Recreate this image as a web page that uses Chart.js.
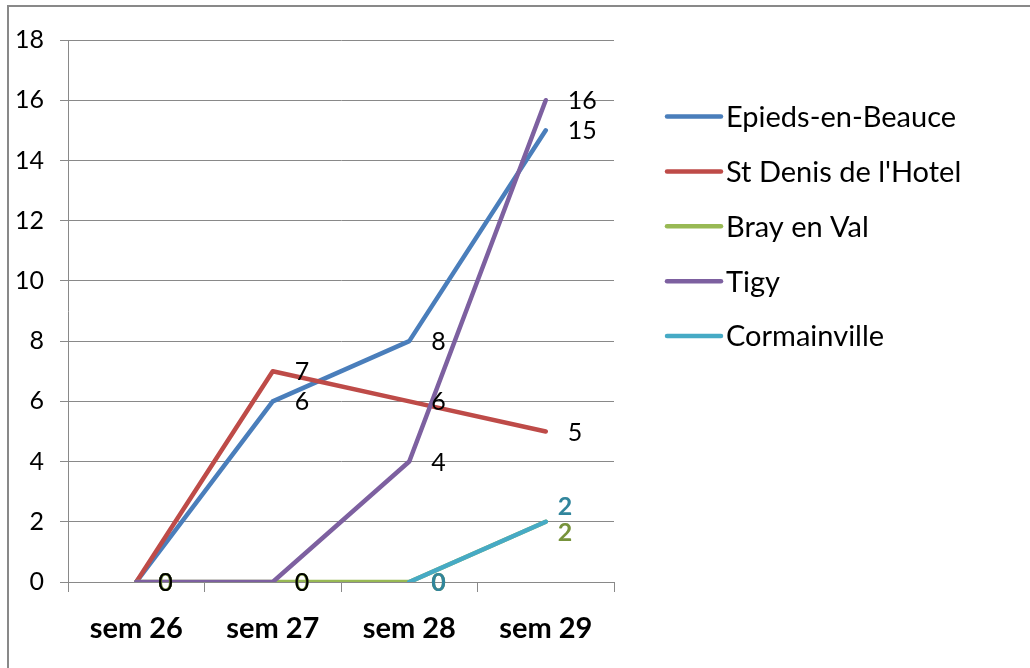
<!DOCTYPE html>
<html>
<head>
<meta charset="utf-8">
<script src="https://cdn.jsdelivr.net/npm/chart.js"></script>
<style>
  html, body { margin: 0; padding: 0; background: #fff; }
  #wrap { position: relative; width: 1030px; height: 668px; overflow: hidden; }
  #frame {
    position: absolute; left: 7px; top: 5px; width: 1100px; height: 700px;
    border-left: 2px solid #898989; border-top: 2px solid #898989;
  }
  canvas { position: absolute; left: 0; top: 0; }
</style>
</head>
<body>
<div id="wrap">
  <div id="frame"></div>
  <canvas id="chart" width="1030" height="668"></canvas>
</div>
<script>
  const weeks = ["sem 26", "sem 27", "sem 28", "sem 29"];
  const epieds = [0, 6, 8, 15];
  const stDenis = [0, 7, 6, 5];
  const bray = [0, 0, 0, 2];
  const tigy = [0, 0, 4, 16];
  const cormainville = [null, null, 0, 2];
  const yMax = 18;
  const yStep = 2;

  const gridGrey = "#898989";
  Chart.defaults.font.family = "Lato, 'Open Sans', sans-serif";
  Chart.defaults.color = "#000";

  // valeurs a droite de chaque point, comme dans Excel
  const valueLabels = {
    id: "valueLabels",
    afterDatasetsDraw(chart, args, opts) {
      const ctx = chart.ctx;
      chart.data.datasets.forEach((ds, i) => {
        const meta = chart.getDatasetMeta(i);
        const style = opts.styles[i];
        meta.data.forEach((pt, j) => {
          const v = ds.data[j];
          if (v === null || v === undefined) return;
          const nudge = (opts.nudge[i] && opts.nudge[i][j]) || [0, 0];
          ctx.save();
          ctx.font = style.font;
          ctx.fillStyle = style.color;
          ctx.textAlign = "left";
          ctx.textBaseline = "middle";
          ctx.fillText(String(v), pt.x + 22 + nudge[0], pt.y + 1 + nudge[1]);
          ctx.restore();
        });
      });
    },
  };

  const sideLegend = {
    id: "sideLegend",
    afterDraw(chart, args, opts) {
      const ctx = chart.ctx;
      chart.data.datasets.forEach((ds, i) => {
        const y = opts.top + i * opts.spacing;
        ctx.save();
        ctx.strokeStyle = ds.borderColor;
        ctx.lineWidth = 4.5;
        ctx.lineCap = "round";
        ctx.beginPath();
        ctx.moveTo(opts.x, y);
        ctx.lineTo(opts.x + opts.lineLength, y);
        ctx.stroke();
        ctx.font = opts.font;
        ctx.fillStyle = "#000";
        ctx.textAlign = "left";
        ctx.textBaseline = "middle";
        ctx.fillText(ds.label, opts.x + opts.lineLength + 5, y + 1);
        ctx.restore();
      });
    },
  };

  const lineStyle = {
    borderWidth: 4.5,
    pointRadius: 0,
    pointHoverRadius: 0,
    tension: 0,
    borderCapStyle: "round",
    borderJoinStyle: "round",
    fill: false,
  };

  const ctx = document.getElementById("chart");

  new Chart(ctx, {
    type: "line",
    data: {
      labels: weeks,
      datasets: [
        { label: "Epieds-en-Beauce", data: epieds, borderColor: "#4A7EBB", order: 5, ...lineStyle },
        { label: "St Denis de l'Hotel", data: stDenis, borderColor: "#BE4B48", order: 4, ...lineStyle },
        { label: "Bray en Val", data: bray, borderColor: "#98B954", order: 3, ...lineStyle },
        { label: "Tigy", data: tigy, borderColor: "#7D60A0", order: 2, ...lineStyle },
        { label: "Cormainville", data: cormainville, borderColor: "#46AAC5", order: 1, ...lineStyle },
      ],
    },
    options: {
      responsive: false,
      animation: false,
      devicePixelRatio: 1,
      layout: {
        padding: { top: 40, right: 416, left: 0, bottom: 0 },
      },
      plugins: {
        legend: { display: false },
        tooltip: { enabled: false },
        valueLabels: {
          styles: [
            { font: "25px Lato", color: "#000" },
            { font: "25px Lato", color: "#000" },
            { font: "bold 25px Lato", color: "#77933C" },
            { font: "25px Lato", color: "#000" },
            { font: "bold 25px Lato", color: "#31859C" },
          ],
          nudge: {
            2: { 3: [-10, 10] },
            4: { 3: [-10, -16] },
          },
        },
        sideLegend: {
          x: 667,
          top: 116.5,
          spacing: 54.9,
          lineLength: 54,
          font: "29px Lato",
        },
      },
      scales: {
        x: {
          offset: true,
          afterFit: (s) => { s.height = 86; },
          grid: {
            offset: true,
            drawOnChartArea: false,
            drawTicks: true,
            tickLength: 10,
            color: gridGrey,
          },
          border: { display: true, color: gridGrey },
          ticks: {
            padding: 19,
            font: { size: 29, weight: "bold" },
            color: "#000",
          },
        },
        y: {
          min: 0,
          max: yMax,
          afterFit: (s) => { s.width = 68; },
          grid: {
            color: gridGrey,
            drawTicks: true,
            tickLength: 8,
          },
          border: { display: true, color: gridGrey },
          ticks: {
            stepSize: yStep,
            padding: 16,
            font: { size: 25 },
            color: "#000",
          },
        },
      },
    },
    plugins: [valueLabels, sideLegend],
  });
</script>
</body>
</html>
